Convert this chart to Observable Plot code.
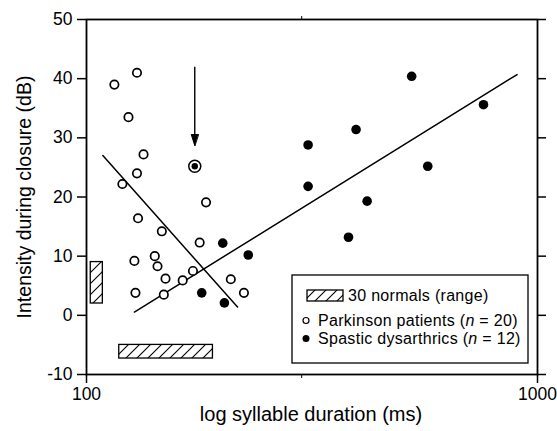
<!DOCTYPE html>
<html>
<head>
<meta charset="utf-8">
<script src="https://cdn.jsdelivr.net/npm/d3@7"></script>
<script src="https://cdn.jsdelivr.net/npm/@observablehq/plot@0.6"></script>
<style>
  html, body { margin: 0; padding: 0; background: #fff; }
  svg { display: block; }
</style>
</head>
<body>
<div id="chart"></div>
<script>
// ---- data ----
const parkX = [129.4, 115.3, 123.9, 133.8, 129.4, 120.1, 184.1, 130.1, 146.9, 178.2, 127.7, 141.7, 143.7, 149.7, 163.4, 172.2, 208.9, 223.4, 128.4, 148.4];
const parkY = [41.0, 39.0, 33.5, 27.2, 24.0, 22.2, 19.1, 16.4, 14.2, 12.3, 9.2, 10.0, 8.3, 6.2, 5.9, 7.5, 6.1, 3.8, 3.8, 3.5];
const spastX = [310, 310, 200.5, 228.4, 180.1, 202.2, 526, 759, 396, 571, 419, 381];
const spastY = [28.8, 21.8, 12.2, 10.2, 3.8, 2.1, 40.4, 35.6, 31.4, 25.2, 19.3, 13.2];
const markedX = [173.8];
const markedY = [25.2];
const arrowY1 = [42];
const arrowY2 = [28.7];
const parkFitX = [108.7, 216.2];
const parkFitY = [27.0, 1.4];
const spastFitX = [127.7, 901];
const spastFitY = [0.56, 40.7];
// normal ranges: intensity range (vertical bar) and duration range (horizontal bar)
const normIntensityX = [102.2, 108.7];
const normIntensityY = [2, 9];
const normDurationX = [118.2, 190.7];
const normDurationY = [-7.3, -5];
const yTicks = [-10, 0, 10, 20, 30, 40, 50];
const xTicks = [100, 1000];
const xMinorTicks = [300];
const xLabel = "log syllable duration (ms)";
const yLabel = "Intensity during closure (dB)";
const legendItems = ["30 normals (range)", "Parkinson patients", "Spastic dysarthrics"];
const legendN = [null, 20, 12];

const park = parkX.map((x, i) => ({x, y: parkY[i]}));
const spast = spastX.map((x, i) => ({x, y: spastY[i]}));
const marked = markedX.map((x, i) => ({x, y: markedY[i]}));
const arrow = markedX.map((x, i) => ({x, y1: arrowY1[i], y2: arrowY2[i]}));
const parkFit = parkFitX.map((x, i) => ({x, y: parkFitY[i]}));
const spastFit = spastFitX.map((x, i) => ({x, y: spastFitY[i]}));
const normRects = [
  {x1: normIntensityX[0], x2: normIntensityX[1], y1: normIntensityY[0], y2: normIntensityY[1]},
  {x1: normDurationX[0], x2: normDurationX[1], y1: normDurationY[0], y2: normDurationY[1]}
];

const FONT = "'Liberation Sans', Arial, Helvetica, sans-serif";

const headShape = {
  draw(context, l) {
    context.moveTo(0, 0);
    context.lineTo(-3.5, -l);
    context.lineTo(3.5, -l);
    context.closePath();
  }
};

const chart = Plot.plot({
  width: 557,
  height: 431,
  marginLeft: 86,
  marginRight: 20,
  marginTop: 19,
  marginBottom: 57,
  style: {fontFamily: FONT, background: "white", color: "black"},
  x: {type: "log", domain: [100, 1000]},
  y: {domain: [-10, 50]},
  marks: [
    Plot.axisY({ticks: yTicks, tickSize: 9, tickPadding: 5, fontSize: 17.5, label: null,
      tickFormat: d => (d < 0 ? "-" + Math.abs(d) : String(d)), strokeWidth: 1.5}),
    Plot.axisY({anchor: "right", ticks: yTicks, tickSize: 8, tickFormat: () => "", label: null, strokeWidth: 1.5}),
    Plot.axisX({ticks: xTicks, tickSize: 9, tickPadding: 4, fontSize: 17.5, label: null,
      tickFormat: d => String(d), strokeWidth: 1.5}),
    Plot.axisX({ticks: xMinorTicks, tickSize: 4, tickFormat: () => "", label: null}),
    Plot.axisX({anchor: "top", ticks: xMinorTicks, tickSize: 4, tickFormat: () => "", label: null}),
    Plot.frame({stroke: "black", strokeWidth: 1.8}),
    Plot.rect(normRects, {x1: "x1", x2: "x2", y1: "y1", y2: "y2", fill: "url(#hatch)", stroke: "black", strokeWidth: 1.3}),
    Plot.line(parkFit, {x: "x", y: "y", stroke: "black", strokeWidth: 1.5}),
    Plot.line(spastFit, {x: "x", y: "y", stroke: "black", strokeWidth: 1.5}),
    Plot.dot(park, {x: "x", y: "y", r: 4.2, fill: "white", stroke: "black", strokeWidth: 1.7}),
    Plot.dot(spast, {x: "x", y: "y", r: 4.8, fill: "black", stroke: "none"}),
    Plot.dot(marked, {x: "x", y: "y", r: 6, fill: "white", stroke: "black", strokeWidth: 1.5}),
    Plot.dot(marked, {x: "x", y: "y", r: 3.2, fill: "black", stroke: "none"}),
    Plot.link(arrow, {x1: "x", x2: "x", y1: "y1", y2: "y2", stroke: "black", strokeWidth: 1.4}),
    Plot.vector(arrow, {x: "x", y: "y2", length: 11, rotate: 0, anchor: "start", shape: headShape, fill: "black", stroke: "black", strokeWidth: 1})
  ]
});

const svg = d3.select(chart);
// hatch pattern
const defs = svg.insert("defs", ":first-child");
const pat = defs.append("pattern").attr("id", "hatch").attr("patternUnits", "userSpaceOnUse")
  .attr("width", 11).attr("height", 11);
pat.append("rect").attr("width", 11).attr("height", 11).attr("fill", "white");
pat.append("path").attr("d", "M0,11 L11,0 M-3,3 L3,-3 M8,14 L14,8")
  .attr("stroke", "black").attr("stroke-width", 1.1);

// axis labels
svg.append("text").attr("x", 311).attr("y", 421).attr("text-anchor", "middle")
  .attr("font-size", 20).attr("font-family", FONT).attr("fill", "black").text(xLabel);
svg.append("text").attr("transform", "translate(31,197) rotate(-90)").attr("text-anchor", "middle")
  .attr("font-size", 19.5).attr("font-family", FONT).attr("fill", "black").text(yLabel);

// legend
const lg = svg.append("g").attr("font-family", FONT).attr("font-size", 16).attr("fill", "black")
  .attr("text-anchor", "start").attr("letter-spacing", 0.3);
lg.append("rect").attr("x", 292).attr("y", 275).attr("width", 236).attr("height", 88)
  .attr("fill", "white").attr("stroke", "black").attr("stroke-width", 1.3);
lg.append("rect").attr("x", 307).attr("y", 290).attr("width", 36).attr("height", 11)
  .attr("fill", "url(#hatch)").attr("stroke", "black").attr("stroke-width", 1.3);
lg.append("text").attr("x", 348).attr("y", 301).attr("text-anchor", "start").text(legendItems[0]);
lg.append("circle").attr("cx", 306).attr("cy", 320.5).attr("r", 3).attr("fill", "white")
  .attr("stroke", "black").attr("stroke-width", 1.2);
const t1 = lg.append("text").attr("x", 318).attr("y", 325.5).attr("text-anchor", "start");
t1.append("tspan").text(legendItems[1] + " (");
t1.append("tspan").attr("font-style", "italic").text("n");
t1.append("tspan").text(" = " + legendN[1] + ")");
lg.append("circle").attr("cx", 306).attr("cy", 338.5).attr("r", 3.5).attr("fill", "black");
const t2 = lg.append("text").attr("x", 318).attr("y", 344).attr("text-anchor", "start");
t2.append("tspan").text(legendItems[2] + " (");
t2.append("tspan").attr("font-style", "italic").text("n");
t2.append("tspan").text(" = " + legendN[2] + ")");

document.getElementById("chart").appendChild(chart);
</script>
</body>
</html>
